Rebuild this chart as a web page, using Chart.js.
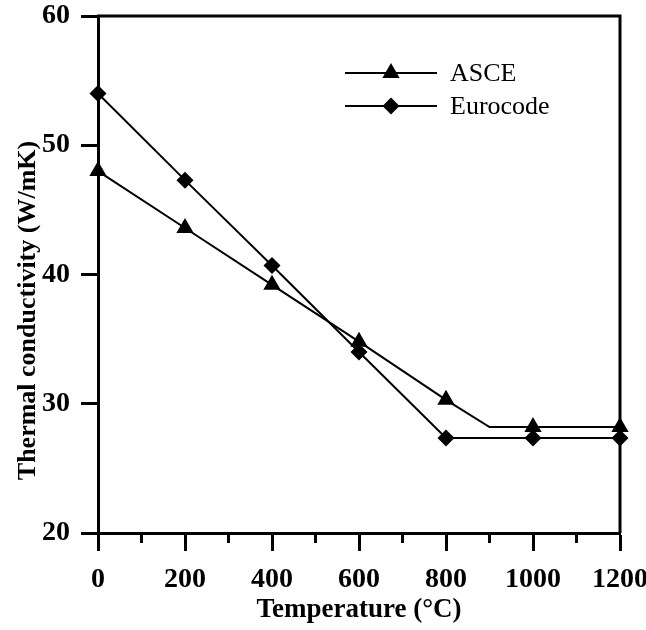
<!DOCTYPE html>
<html><head><meta charset="utf-8">
<script src="https://cdn.jsdelivr.net/npm/chart.js@4/dist/chart.umd.min.js"></script>
<style>html,body{margin:0;padding:0;background:#fff}</style>
</head><body>
<canvas id="c" width="646" height="630"></canvas>
<script>
const asceTemps=[0,200,400,600,800,900,1000,1200];
const asceValues=[48,43.6,39.2,34.8,30.3,28.2,28.2,28.2];
const asceMarkers=[true,true,true,true,true,false,true,true];
const euroTemps=[0,200,400,600,800,1000,1200];
const euroValues=[54,47.3,40.7,34.0,27.35,27.35,27.35];
const seriesNames=['ASCE','Eurocode'];
const xTickValues=[0,200,400,600,800,1000,1200];
const yTickValues=[20,30,40,50,60];
const xTitle='Temperature (°C)';
const yTitle='Thermal conductivity (W/mK)';

const SERIF='"Liberation Serif","Times New Roman",serif';

const asceData=asceTemps.map((t,i)=>({x:t,y:asceValues[i]}));
const euroData=euroTemps.map((t,i)=>({x:t,y:euroValues[i]}));

function drawMarker(ctx,style,r,x,y){
  ctx.beginPath();
  if(style==='triangle'){
    ctx.moveTo(x,y-r);
    ctx.lineTo(x+r*Math.sin(Math.PI/3),y+r*0.5);
    ctx.lineTo(x-r*Math.sin(Math.PI/3),y+r*0.5);
  }else{
    ctx.moveTo(x,y-r);ctx.lineTo(x+r,y);ctx.lineTo(x,y+r);ctx.lineTo(x-r,y);
  }
  ctx.closePath();ctx.fill();
}

const framePlugin={
  id:'frame',
  afterDraw(chart){
    const {ctx,chartArea:a,scales}=chart;
    const xs=scales.x;
    ctx.save();
    ctx.strokeStyle='#000';ctx.fillStyle='#000';ctx.lineWidth=3;ctx.lineCap='butt';
    ctx.beginPath();
    ctx.moveTo(a.left-1,a.top);ctx.lineTo(a.right,a.top);ctx.lineTo(a.right,a.bottom);
    ctx.stroke();
    // minor x ticks
    ctx.beginPath();
    xs.ticks.forEach(t=>{
      if(xTickValues.indexOf(t.value)<0){
        const px=xs.getPixelForValue(t.value);
        ctx.moveTo(px,a.bottom);ctx.lineTo(px,a.bottom+10);
      }
    });
    ctx.stroke();
    // y title
    ctx.save();
    ctx.translate(28,(a.top+a.bottom)/2+36);
    ctx.rotate(-Math.PI/2);
    ctx.font='bold 26px '+SERIF;ctx.textAlign='center';ctx.textBaseline='middle';
    ctx.fillText(yTitle,0,0);
    ctx.restore();
    // legend
    const ds=chart.data.datasets;
    const lx0=a.left+247, lx1=a.left+339, tx=a.left+352;
    const rows=[a.top+57,a.top+90];
    ctx.lineWidth=2;
    ctx.font='26px '+SERIF;ctx.textBaseline='middle';ctx.textAlign='left';
    ds.forEach((d,i)=>{
      const yy=rows[i];
      ctx.beginPath();ctx.moveTo(lx0,yy);ctx.lineTo(lx1,yy);ctx.stroke();
      drawMarker(ctx,d.pointStyle,d.pointStyle==='triangle'?10:8.5,(lx0+lx1)/2,yy);
      ctx.fillText(d.label,tx,yy+1);
    });
    ctx.restore();
  }
};

new Chart(document.getElementById('c'),{
  type:'line',
  data:{datasets:[
    {label:seriesNames[0],data:asceData,borderColor:'#000',backgroundColor:'#000',borderWidth:2,
     pointStyle:'triangle',pointRadius:asceMarkers.map(m=>m?10:0),pointBorderWidth:0,tension:0,clip:false},
    {label:seriesNames[1],data:euroData,borderColor:'#000',backgroundColor:'#000',borderWidth:2,
     pointStyle:'rectRot',pointRadius:8.5,pointBorderWidth:0,tension:0,clip:false}
  ]},
  options:{
    responsive:false,animation:false,
    layout:{padding:{left:0,right:0,top:0,bottom:0}},
    plugins:{legend:{display:false},tooltip:{enabled:false}},
    scales:{
      x:{type:'linear',min:0,max:1200,
        ticks:{stepSize:100,color:'#000',padding:12,maxRotation:0,autoSkip:false,
          font:{family:SERIF,size:28,weight:'bold'},
          callback:v=>xTickValues.indexOf(v)>=0?String(v):''},
        grid:{drawOnChartArea:false,drawTicks:true,tickLength:18,tickWidth:3,
          tickColor:c=>xTickValues.indexOf(c.tick.value)>=0?'#000':'rgba(0,0,0,0)'},
        border:{display:true,color:'#000',width:3},
        title:{display:true,text:xTitle,color:'#000',
          font:{family:SERIF,size:27,weight:'bold'},padding:{top:0,bottom:4}},
        afterFit(s){s.height=97;s.paddingRight=26;}
      },
      y:{min:20,max:60,
        ticks:{stepSize:10,color:'#000',padding:11,
          font:{family:SERIF,size:28,weight:'bold'},
          callback:v=>yTickValues.indexOf(v)>=0?String(v):''},
        grid:{drawOnChartArea:false,drawTicks:true,tickLength:17,tickWidth:3,tickColor:'#000'},
        border:{display:true,color:'#000',width:3},
        title:{display:false},
        afterFit(s){s.width=98;s.paddingTop=16;}
      }
    }
  },
  plugins:[framePlugin]
});
</script>
</body></html>
